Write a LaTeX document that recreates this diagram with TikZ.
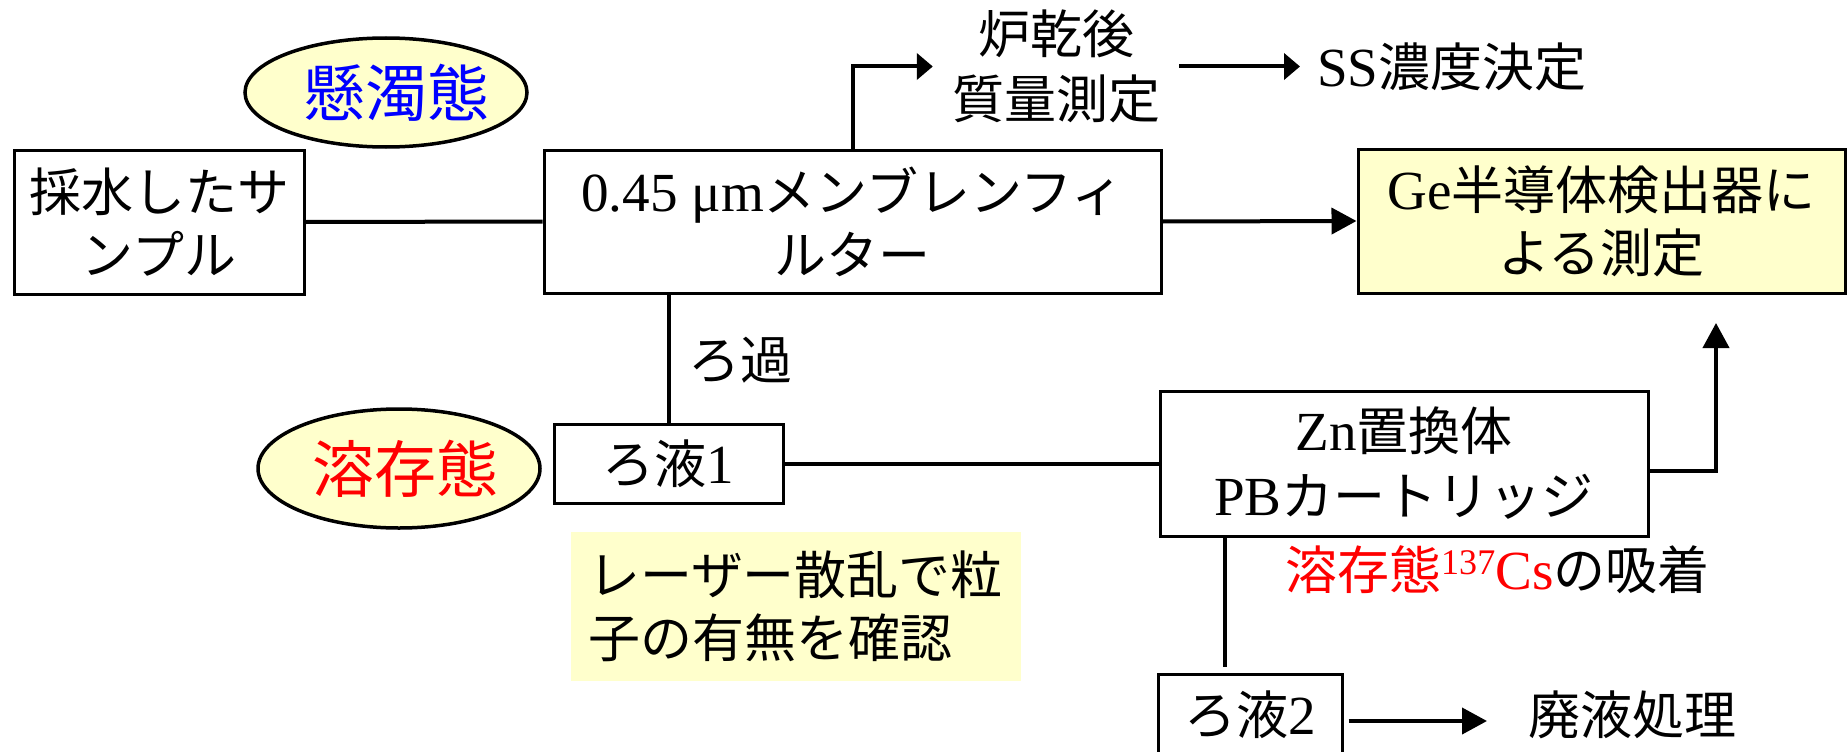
\documentclass[tikz,border=0pt]{standalone}
\usepackage{fontspec}
\setmainfont{Liberation Serif}[Scale=1.06]
\newfontfamily\jp{Noto Sans CJK JP}
\usetikzlibrary{shapes.geometric,arrows.meta}
\definecolor{paleyellow}{RGB}{255,255,204}
\begin{document}
\begin{tikzpicture}[x=1pt,y=-1pt,
  every node/.style={font=\fontsize{52pt}{63pt}\selectfont},
  box/.style={draw, line width=3pt, inner sep=0pt, align=center},
  conn/.style={line width=4pt},
  arr/.style={conn, -{Triangle[length=25pt,width=26pt]}},
  sarr/.style={conn, -{Triangle[length=16pt,width=26pt]}},
  bubble/.style={ellipse, draw, line width=3.5pt, fill=paleyellow, inner sep=0pt,
    minimum width=282pt, font=\fontsize{62pt}{62pt}\selectfont\jp},
  lbl/.style={inner sep=0pt, align=center}
]
\clip (0,0) rectangle (1847,752);
\useasboundingbox (0,0) rectangle (1847,752);

% nodes
\node[bubble, minimum height=109pt, text=blue] (susp) at (386,92.5)
  {\makebox[186pt][l]{\hspace*{10pt}懸濁態}};
\node[box, minimum width=290pt, minimum height=144pt] (sample) at (159,222)
  {{\jp 採水したサ}\\{\jp ンプル}};
\node[box, minimum width=617pt, minimum height=143pt] (filter) at (852.5,221.5)
  {0.45 μm{\jp メンブレンフィ}\\{\jp ルター}};
\node[lbl, font=\fontsize{52pt}{65pt}\selectfont\jp] (dry) at (1056,66.5) {炉乾後\\質量測定};
\node[lbl, anchor=west] (ss) at (1317,66.5) {SS{\jp 濃度決定}};
\node[box, fill=paleyellow, minimum width=487pt, minimum height=144pt] (ge) at (1601.5,221)
  {Ge{\jp 半導体検出器に}\\{\jp よる測定}};

\node[lbl, anchor=west, font=\fontsize{52pt}{63pt}\selectfont\jp] (roka) at (688,360) {ろ過};
\node[bubble, minimum height=119pt, text=red] (diss) at (399,468.5)
  {\makebox[186pt][l]{\hspace*{6pt}溶存態}};
\node[box, minimum width=229pt, minimum height=79pt] (r1) at (668.5,463.5) {{\jp ろ液}1};
\node[fill=paleyellow, minimum width=450pt, minimum height=149pt, inner sep=0pt,
  text width=416pt, align=left] (note) at (796,606.5)
  {{\jp レーザー散乱で粒}\\{\jp 子の有無を確認}};
\node[box, minimum width=488pt, minimum height=145pt, font=\fontsize{52pt}{65pt}\selectfont]
  (zn) at (1404,463.5) {Zn{\jp 置換体}\\PB{\jp カートリッジ}};
\node[lbl, anchor=west] (cs) at (1285,570)
  {\textcolor{red}{{\jp 溶存態}\raisebox{15pt}{\fontsize{34pt}{34pt}\selectfont 137}Cs}{\jp の吸着}};
\node[box, minimum width=184pt, minimum height=82pt] (r2) at (1250,715) {{\jp ろ液}2};
\node[lbl, anchor=west, font=\fontsize{52pt}{63pt}\selectfont\jp] (waste) at (1528,715) {廃液処理};

% connectors
\coordinate (geIn) at (1716,323);
\coordinate (z2) at (1225,667);
\draw[conn] (sample.east) -- (filter.west);
\draw[sarr] (filter.north) |- ([xshift=-19pt]dry.west);
\draw[sarr] ([xshift=19pt]dry.east) -- ([xshift=-17pt]ss.west);
\draw[arr] (filter.east) -- (ge.west);
\draw[conn] (r1.north) -- (r1.north |- filter.south);
\draw[conn] (r1.east) -- (zn.west);
\draw[arr] ([yshift=-7pt]zn.east) -| (geIn);
\draw[conn] (z2 |- zn.south) -- (z2);
\draw[arr] ([xshift=5pt,yshift=-6pt]r2.east) -- ([xshift=-41pt,yshift=-6pt]waste.west);
\end{tikzpicture}
\end{document}
